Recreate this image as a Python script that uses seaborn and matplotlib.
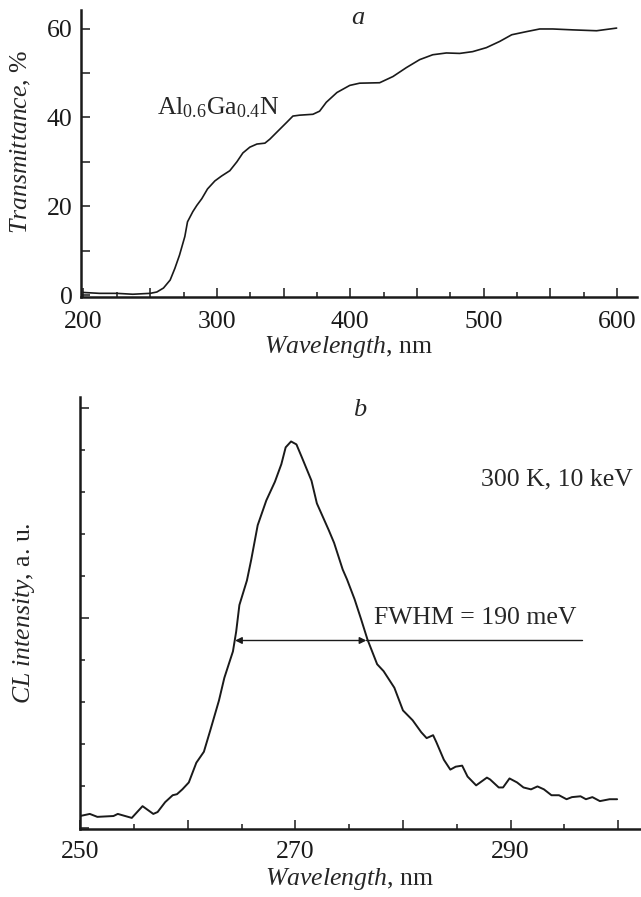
import numpy as np
import seaborn as sns
import matplotlib.pyplot as plt
from matplotlib.ticker import MultipleLocator, FuncFormatter

# (a) transmittance spectrum of Al0.6Ga0.4N
trans_wl = [200, 212, 225, 237, 250, 255, 260, 265, 268.5, 272, 276, 278, 282, 285,
            288.7, 293, 298.5, 303.5, 309.7, 315, 319.5, 324.7, 330, 336, 339.7,
            345.7, 352.4, 357, 362, 372, 377, 382, 390, 399.6, 407, 422, 432, 442,
            452, 461.8, 472, 482, 491.7, 502, 512, 521, 532, 542, 551.7, 566.6,
            584.6, 599.6]
trans_val = [0.6, 0.4, 0.4, 0.2, 0.4, 0.7, 1.6, 3.4, 6.0, 9.0, 13.2, 16.5, 18.8, 20.2,
             21.7, 23.9, 25.7, 26.8, 28.0, 30.0, 32.0, 33.3, 34.0, 34.2, 35.1,
             36.9, 38.9, 40.3, 40.5, 40.7, 41.4, 43.4, 45.6, 47.2, 47.7, 47.8, 49.2, 51.2,
             53.0, 54.1, 54.5, 54.4, 54.8, 55.7, 57.1, 58.6, 59.3, 59.9, 59.9, 59.7,
             59.5, 60.1]

# (b) cathodoluminescence spectrum, arbitrary units
cl_wl = [250.0, 250.9, 251.6, 253.1, 253.5, 254.8, 255.8, 256.8, 257.2, 257.9, 258.6,
         259.0, 259.5, 260.1, 260.8, 261.5, 262.1, 262.9, 263.4, 263.9, 264.2, 264.5,
         264.8, 265.5, 265.9, 266.5, 267.3, 268.1, 268.7, 269.1, 269.6, 270.1, 270.6,
         271.5, 272.0, 273.1, 273.6, 274.4, 274.8, 275.5, 276.1, 276.7, 277.6, 278.2,
         279.2, 280.0, 280.9, 281.7, 282.2, 282.8, 283.1, 283.8, 284.4, 284.9, 285.5,
         286.0, 286.8, 287.8, 288.1, 288.9, 289.3, 289.9, 290.6, 291.2, 291.9, 292.5,
         293.1, 293.8, 294.5, 295.2, 295.7, 296.5, 297.0, 297.6, 298.3, 299.2, 299.9]
cl_val = [0.056, 0.066, 0.052, 0.056, 0.066, 0.047, 0.103, 0.066, 0.075, 0.122, 0.155,
          0.160, 0.183, 0.216, 0.310, 0.362, 0.465, 0.606, 0.714, 0.793, 0.840, 0.934,
          1.061, 1.178, 1.277, 1.441, 1.559, 1.648, 1.732, 1.812, 1.840, 1.826, 1.765,
          1.653, 1.545, 1.418, 1.357, 1.230, 1.183, 1.089, 0.995, 0.897, 0.779, 0.746,
          0.667, 0.559, 0.512, 0.455, 0.427, 0.441, 0.408, 0.324, 0.277, 0.291, 0.296,
          0.244, 0.202, 0.239, 0.230, 0.192, 0.192, 0.235, 0.216, 0.192, 0.183, 0.197,
          0.183, 0.155, 0.155, 0.136, 0.146, 0.150, 0.136, 0.146, 0.127, 0.136, 0.136]

# FWHM marker
fwhm_level = 0.892
fwhm_left, fwhm_right, fwhm_line_end = 264.4, 276.6, 296.6

sns.set_theme(style="ticks")
plt.rcParams["font.family"] = ["Liberation Serif", "DejaVu Serif"]
plt.rcParams["mathtext.fontset"] = "custom"
plt.rcParams["mathtext.rm"] = "Liberation Serif"
plt.rcParams["mathtext.it"] = "Liberation Serif:italic"
plt.rcParams["font.size"] = 18.5

fig = plt.figure(figsize=(6.41, 8.97), dpi=100)
ax1 = fig.add_axes([0.126, 0.669, 0.868, 0.320])
ax2 = fig.add_axes([0.125, 0.076, 0.873, 0.481])

for ax in (ax1, ax2):
    for s in ("top", "right"):
        ax.spines[s].set_visible(False)
    for s in ("left", "bottom"):
        ax.spines[s].set_linewidth(1.8)
        ax.spines[s].set_color("#1a1a1a")
    ax.tick_params(which="both", direction="in", color="#1a1a1a", width=1.1,
                   labelsize=18.5, labelcolor="#1a1a1a")
    ax.tick_params(which="major", length=6.5, pad=6)
    ax.tick_params(which="minor", length=3.5)
ax1.tick_params(axis="x", which="major", pad=10)
ax2.tick_params(axis="x", which="major", pad=9)

# panel a
sns.lineplot(x=trans_wl, y=trans_val, ax=ax1, color="#1a1a1a", linewidth=1.2,
             estimator=None, sort=False)
ax1.set_xlim(198, 615)
ax1.set_ylim(-0.4, 64.2)
ax1.xaxis.set_major_locator(MultipleLocator(50))
ax1.xaxis.set_minor_locator(MultipleLocator(25))
ax1.xaxis.set_major_formatter(FuncFormatter(lambda v, p: f"{v:.0f}" if v % 100 == 0 else ""))
ax1.yaxis.set_major_locator(MultipleLocator(10))
ax1.yaxis.set_major_formatter(FuncFormatter(lambda v, p: f"{v:.0f}" if v % 20 == 0 else ""))
ax1.set_xlabel(r"$\mathit{Wavelength}$, nm", fontsize=18.5)
ax1.set_ylabel(r"$\mathit{Transmittance}$, %", fontsize=18.5)
ax1.xaxis.set_label_coords(0.482, -0.13)
ax1.yaxis.set_label_coords(-0.085, 0.54)
ax1.text(255, 40.7, r"Al$_{0.6}$Ga$_{0.4}$N", fontsize=18.5, ha="left", va="baseline")
ax1.text(0.498, 0.972, "a", transform=ax1.transAxes, fontsize=19, style="italic",
         ha="center", va="center")

# panel b
sns.lineplot(x=cl_wl, y=cl_val, ax=ax2, color="#1a1a1a", linewidth=1.4,
             estimator=None, sort=False)
ax2.set_xlim(250, 302)
ax2.set_ylim(-0.005, 2.05)
ax2.xaxis.set_major_locator(MultipleLocator(10))
ax2.xaxis.set_minor_locator(MultipleLocator(5))
ax2.xaxis.set_major_formatter(FuncFormatter(lambda v, p: f"{v:.0f}" if v % 20 == 10 else ""))
ax2.yaxis.set_major_locator(MultipleLocator(1))
ax2.yaxis.set_minor_locator(MultipleLocator(0.2))
ax2.yaxis.set_major_formatter(FuncFormatter(lambda v, p: ""))
ax2.set_xlabel(r"$\mathit{Wavelength}$, nm", fontsize=18.5)
ax2.set_ylabel(r"$\mathit{CL\ intensity}$, a. u.", fontsize=18.5)
ax2.xaxis.set_label_coords(0.482, -0.087)
ax2.yaxis.set_label_coords(-0.077, 0.5)
ax2.annotate("", xy=(fwhm_left, fwhm_level), xytext=(fwhm_right, fwhm_level),
             arrowprops=dict(arrowstyle="<|-|>", color="#1a1a1a", lw=1.0,
                             shrinkA=0, shrinkB=0, mutation_scale=10))
ax2.plot([fwhm_right, fwhm_line_end], [fwhm_level, fwhm_level], color="#1a1a1a", lw=1.0)
ax2.text(277.3, 0.972, "FWHM = 190 meV", fontsize=18.5, ha="left", va="baseline")
ax2.text(301.4, 1.63, "300 K, 10 keV", fontsize=18.5, ha="right", va="baseline")
ax2.text(0.5, 0.97, "b", transform=ax2.transAxes, fontsize=19, style="italic",
         ha="center", va="center")

fig.savefig("out.png", dpi=100)
